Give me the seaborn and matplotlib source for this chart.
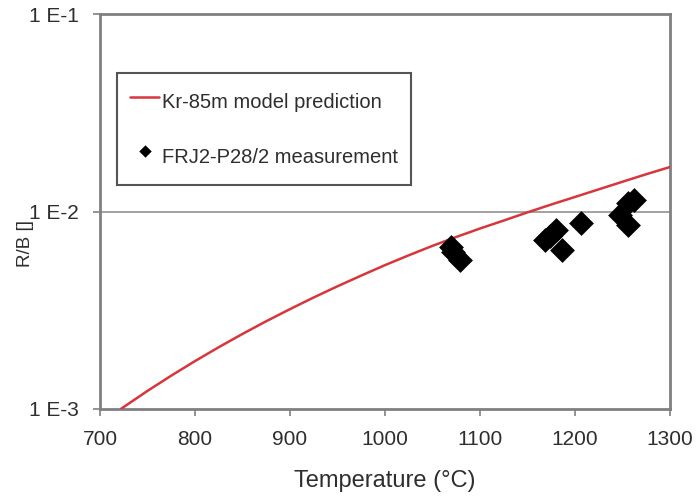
import matplotlib
matplotlib.use("Agg")
import matplotlib.pyplot as plt
from matplotlib.ticker import FixedLocator, NullLocator
import seaborn as sns
import pandas as pd

# Kr-85m model prediction (temperature in degC, release-to-birth ratio)
model_temp = [722, 725, 750, 775, 800, 825, 850, 875, 900, 925, 950, 975, 1000,
              1025, 1050, 1075, 1100, 1125, 1150, 1175, 1200, 1225, 1250, 1275, 1300]
model_rb = [1.000e-3, 1.023e-3, 1.234e-3, 1.474e-3, 1.747e-3, 2.054e-3, 2.398e-3,
            2.781e-3, 3.203e-3, 3.670e-3, 4.181e-3, 4.737e-3, 5.350e-3,
            6.000e-3, 6.700e-3, 7.430e-3, 8.200e-3, 9.000e-3, 9.900e-3,
            1.085e-2, 1.185e-2, 1.295e-2, 1.415e-2, 1.545e-2, 1.680e-2]

# FRJ2-P28/2 measured values
meas_temp = [1070, 1072, 1079, 1168, 1174, 1180, 1186, 1206, 1247, 1256, 1256, 1262]
meas_rb = [6.6e-3, 6.2e-3, 5.7e-3, 7.2e-3, 7.5e-3, 8.05e-3, 6.4e-3, 8.75e-3,
           9.6e-3, 8.55e-3, 1.10e-2, 1.14e-2]

x_ticks = [700, 800, 900, 1000, 1100, 1200, 1300]
y_ticks = [1e-3, 1e-2, 1e-1]
y_tick_labels = ["1 E-3", "1 E-2", "1 E-1"]

model_df = pd.DataFrame({"T": model_temp, "RB": model_rb})
meas_df = pd.DataFrame({"T": meas_temp, "RB": meas_rb})

sns.set_theme(style="white")
plt.rcParams["font.family"] = ["Liberation Sans", "DejaVu Sans"]

fig = plt.figure(figsize=(6.99, 5.03), dpi=100)
ax = fig.add_axes([0.143, 0.187, 0.8155, 0.785])

frame_col = "#808080"
text_col = "#2e2e2e"

ax.axhline(1e-2, color="#9a9a9a", lw=1.3, zorder=1)

sns.lineplot(data=model_df, x="T", y="RB", ax=ax, color="#d6363c", lw=1.8,
             label="Kr-85m model prediction", zorder=3)
sns.scatterplot(data=meas_df, x="T", y="RB", ax=ax, marker="D", s=160,
                color="black", edgecolor="black", linewidth=0,
                label="FRJ2-P28/2 measurement", zorder=4)

ax.set_yscale("log")
ax.set_xlim(700, 1300)
ax.set_ylim(1e-3, 1e-1)
ax.xaxis.set_major_locator(FixedLocator(x_ticks))
ax.yaxis.set_major_locator(FixedLocator(y_ticks))
ax.yaxis.set_minor_locator(NullLocator())
ax.set_yticklabels(y_tick_labels)
ax.set_xticklabels([str(v) for v in x_ticks])

for sp in ax.spines.values():
    sp.set_color(frame_col)
    sp.set_linewidth(2.0)
    sp.set_visible(True)

ax.tick_params(axis="both", which="major", direction="out", length=5, width=1.2,
               color=frame_col, labelsize=15, labelcolor=text_col,
               bottom=True, left=True)
ax.tick_params(axis="y", pad=10)
ax.tick_params(axis="x", pad=10)

ax.set_xlabel("Temperature (°C)", fontsize=17, color=text_col, labelpad=15)
ax.set_ylabel("R/B []", fontsize=13.5, color=text_col)
ax.yaxis.set_label_coords(-0.115, 0.42)

leg = ax.legend(loc="upper left", bbox_to_anchor=(0.03, 0.852), fontsize=14.5,
                frameon=True, fancybox=False, framealpha=1, edgecolor="#555555",
                handlelength=1.45, handleheight=2.0, handletextpad=0.15,
                labelspacing=1.2, borderpad=0.65, borderaxespad=0,
                markerscale=0.5)
leg.get_frame().set_linewidth(1.5)
for t in leg.get_texts():
    t.set_color(text_col)

fig.savefig("out.png", dpi=100, facecolor="white")
